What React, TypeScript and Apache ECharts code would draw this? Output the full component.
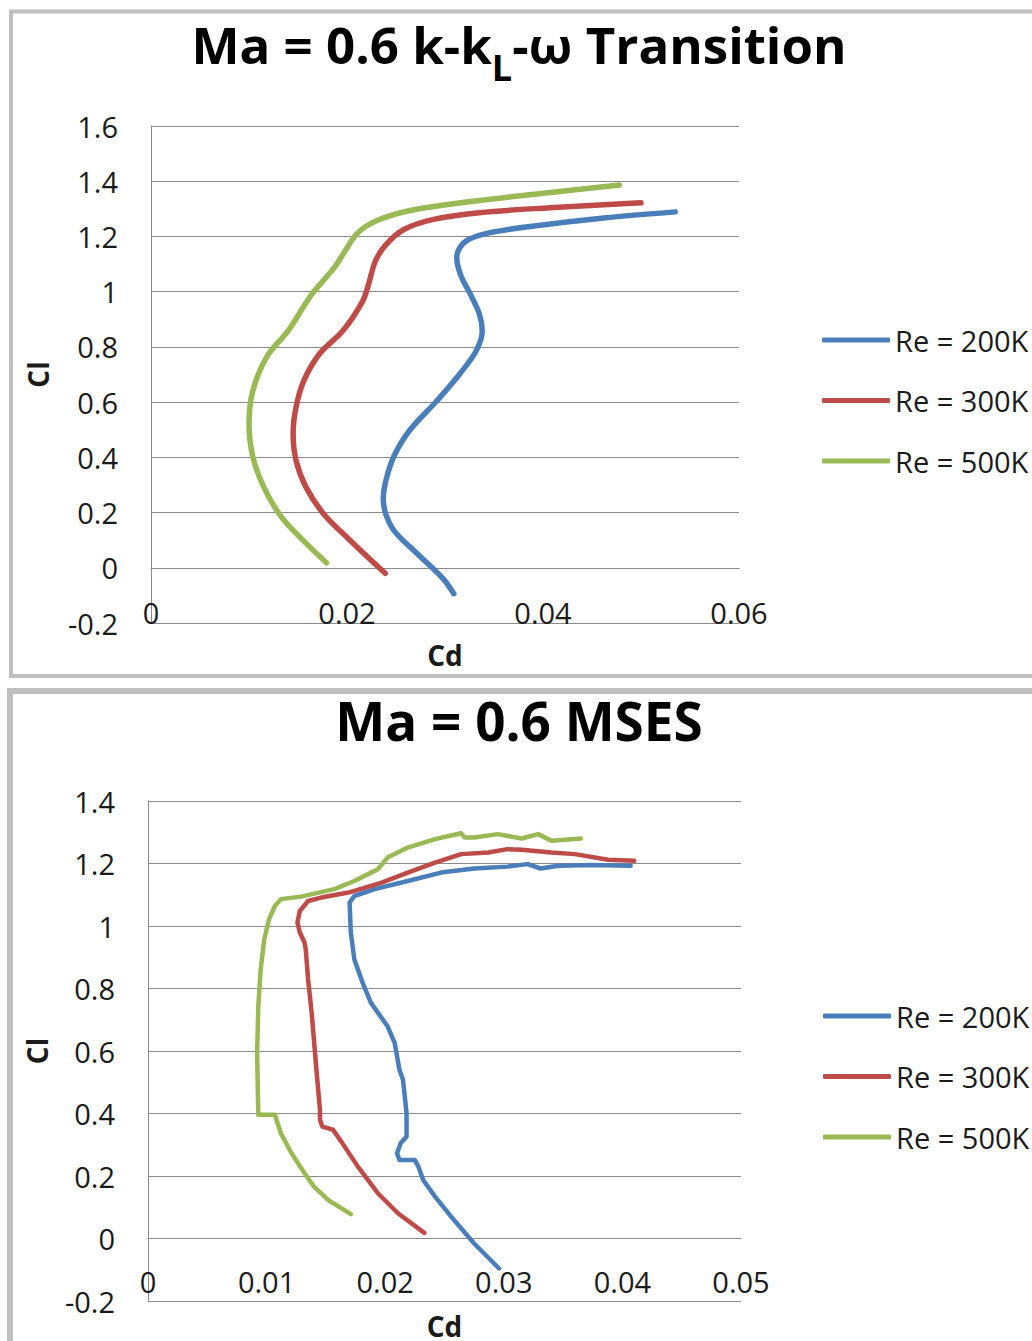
import React, { useEffect, useRef } from "react";
import * as echarts from "echarts";

// ---- Ma = 0.6 k-kL-ω Transition : [Cd, Cl]
const kklRe200K = [
  [0.0309, -0.094], [0.0298, -0.039], [0.0272, 0.05], [0.0249, 0.13], [0.024, 0.19],
  [0.0237, 0.25], [0.024, 0.32], [0.0248, 0.405], [0.0264, 0.498], [0.0292, 0.606],
  [0.0315, 0.702], [0.0332, 0.787], [0.0338, 0.858], [0.0335, 0.92], [0.0326, 0.99],
  [0.0316, 1.06], [0.0312, 1.123], [0.0315, 1.159], [0.0324, 1.189], [0.0345, 1.213],
  [0.0389, 1.237], [0.0462, 1.267], [0.0535, 1.289],
];
const kklRe300K = [
  [0.0239, -0.02], [0.0203, 0.1], [0.0176, 0.196], [0.0158, 0.293], [0.0148, 0.389],
  [0.0145, 0.486], [0.0148, 0.582], [0.0156, 0.678], [0.0172, 0.775], [0.0196, 0.859],
  [0.0216, 0.966], [0.0222, 1.027], [0.0229, 1.111], [0.024, 1.171], [0.0258, 1.225],
  [0.0287, 1.261], [0.0335, 1.286], [0.0407, 1.304], [0.05, 1.322],
];
const kklRe500K = [
  [0.0179, 0.018], [0.0155, 0.1], [0.0133, 0.184], [0.0115, 0.293], [0.0104, 0.401],
  [0.01, 0.522], [0.0104, 0.642], [0.0118, 0.763], [0.014, 0.859], [0.0164, 0.99],
  [0.0187, 1.087], [0.0198, 1.147], [0.0211, 1.213], [0.0229, 1.255], [0.0262, 1.292],
  [0.0316, 1.322], [0.0389, 1.352], [0.0478, 1.386],
];

// ---- Ma = 0.6 MSES : [Cd, Cl]
const msesRe200K = [
  [0.0296, -0.096], [0.0275, -0.016], [0.0258, 0.059], [0.0242, 0.134], [0.0232, 0.187],
  [0.0228, 0.23], [0.0225, 0.251], [0.0212, 0.251], [0.021, 0.273], [0.0213, 0.305],
  [0.0218, 0.326], [0.0218, 0.401], [0.0215, 0.508], [0.0212, 0.54], [0.0208, 0.626],
  [0.0202, 0.679], [0.0188, 0.754], [0.0181, 0.818], [0.0174, 0.893], [0.0171, 0.979],
  [0.017, 1.075], [0.0174, 1.096], [0.0191, 1.118], [0.0219, 1.144], [0.0247, 1.171],
  [0.0275, 1.184], [0.0303, 1.19], [0.032, 1.198], [0.0331, 1.184], [0.0346, 1.193],
  [0.0374, 1.195], [0.0407, 1.193],
];
const msesRe300K = [
  [0.0233, 0.018], [0.0211, 0.08], [0.0194, 0.144], [0.0177, 0.23], [0.0163, 0.31],
  [0.0156, 0.348], [0.0147, 0.358], [0.0145, 0.38], [0.0145, 0.412], [0.0142, 0.54],
  [0.0138, 0.722], [0.0135, 0.829], [0.0133, 0.925], [0.0132, 0.947], [0.0128, 0.979],
  [0.0126, 1.011], [0.0128, 1.048], [0.0135, 1.08], [0.0146, 1.091], [0.0169, 1.107],
  [0.0197, 1.139], [0.0219, 1.171], [0.0242, 1.203], [0.0264, 1.23], [0.0287, 1.235],
  [0.0303, 1.246], [0.0315, 1.244], [0.034, 1.235], [0.036, 1.23], [0.0388, 1.212],
  [0.041, 1.209],
];
const msesRe500K = [
  [0.0171, 0.078], [0.0152, 0.123], [0.014, 0.166], [0.0132, 0.209], [0.0121, 0.273],
  [0.0112, 0.337], [0.0107, 0.396], [0.0104, 0.396], [0.0093, 0.396], [0.0092, 0.594],
  [0.0093, 0.743], [0.0095, 0.861], [0.0098, 0.957], [0.0102, 1.021], [0.0107, 1.064],
  [0.0112, 1.086], [0.0129, 1.094], [0.0157, 1.118], [0.0174, 1.144], [0.0194, 1.182],
  [0.0202, 1.219], [0.0219, 1.251], [0.0242, 1.278], [0.0264, 1.297], [0.0267, 1.283],
  [0.0275, 1.283], [0.0295, 1.294], [0.0315, 1.28], [0.0329, 1.294], [0.034, 1.273],
  [0.0365, 1.28],
];

const seriesNames = ["Re = 200K", "Re = 300K", "Re = 500K"];
const seriesColors = ["#4a7ebb", "#be4b48", "#98b954"];
const titleTop = "Ma = 0.6 k-k";
const titleTopSub = "L";
const titleTopEnd = "-ω Transition";
const titleBottom = "Ma = 0.6 MSES";
const xNameText = "Cd";
const yNameText = "Cl";

const FONT = "'Open Sans', 'DejaVu Sans', sans-serif";
const GRID_COLOR = "#8a8a8a";
const TEXT = "#1a1a1a";

export default function App() {
  const ref = useRef<HTMLDivElement>(null);

  useEffect(() => {
    if (!ref.current) return;
    const chart = echarts.init(ref.current, undefined, { renderer: "svg" });

    const xAxisBase = (gridIndex: number, max: number, interval: number, labelMargin: number, nameGap: number) => ({
      type: "value",
      gridIndex,
      min: 0,
      max,
      interval,
      name: xNameText,
      nameLocation: "middle",
      nameGap,
      nameTextStyle: { fontFamily: FONT, fontSize: 28, fontWeight: "bold", color: TEXT },
      axisLine: { show: true, lineStyle: { color: GRID_COLOR, width: 1 } },
      axisTick: { show: false },
      splitLine: { show: false },
      axisLabel: {
        inside: true,
        margin: labelMargin,
        fontFamily: FONT,
        fontSize: 29,
        color: TEXT,
      },
    });

    const yAxisBase = (gridIndex: number, max: number, nameGap: number) => ({
      type: "value",
      gridIndex,
      min: -0.2,
      max,
      interval: 0.2,
      name: yNameText,
      nameLocation: "middle",
      nameGap,
      nameTextStyle: { fontFamily: FONT, fontSize: 28, fontWeight: "bold", color: TEXT },
      axisLine: { show: true, lineStyle: { color: GRID_COLOR, width: 1 } },
      axisTick: { show: false },
      splitLine: { show: true, lineStyle: { color: GRID_COLOR, width: 1 } },
      axisLabel: {
        margin: 33,
        fontFamily: FONT,
        fontSize: 29,
        color: TEXT,
        formatter: (v: number) => String(Math.round(v * 10) / 10),
      },
    });

    const mk = (name: string, data: number[][], idx: number, color: string, width: number, smooth: number | boolean) => ({
      type: "line",
      name,
      xAxisIndex: idx,
      yAxisIndex: idx,
      data,
      symbol: "none",
      smooth,
      lineStyle: { color, width, cap: "round", join: "round" },
      itemStyle: { color },
    });

    const legendBase = (left: number, top: number) => ({
      orient: "vertical",
      left,
      top,
      padding: 0,
      itemWidth: 68,
      itemHeight: 5,
      itemGap: 30.5,
      icon: "roundRect",
      data: seriesNames,
      selectedMode: false,
      textStyle: { fontFamily: FONT, fontSize: 29, color: TEXT, lineHeight: 30 },
    });

    chart.setOption({
      animation: false,
      backgroundColor: "#ffffff",
      title: [
        {
          text: `{a|${titleTop}}{s|${titleTopSub}}{a|${titleTopEnd}}`,
          left: 519,
          top: 18,
          textAlign: "center",
          padding: 0,
          textStyle: {
            rich: {
              a: { fontFamily: FONT, fontSize: 51, fontWeight: "bold", color: "#000", lineHeight: 60, verticalAlign: "top" },
              s: { fontFamily: FONT, fontSize: 36, fontWeight: "bold", color: "#000", lineHeight: 40, verticalAlign: "top", padding: [31, 0, 0, 0] },
            },
          },
        },
        {
          text: titleBottom,
          left: 519,
          top: 690,
          textAlign: "center",
          padding: 0,
          textStyle: { fontFamily: FONT, fontSize: 53, fontWeight: "bold", color: "#000", lineHeight: 60 },
        },
      ],
      legend: [legendBase(822, 325), legendBase(823, 1001)],
      grid: [
        { left: 151, top: 126, width: 588, height: 497 },
        { left: 148, top: 801, width: 593, height: 502 },
      ],
      xAxis: [xAxisBase(0, 0.06, 0.02, -4, 18), xAxisBase(1, 0.05, 0.01, 5, 11)],
      yAxis: [yAxisBase(0, 1.6, 99), yAxisBase(1, 1.4, 97)],
      graphic: [
        {
          type: "rect",
          shape: { x: 11, y: 11.5, width: 1100, height: 664.5 },
          style: { fill: "none", stroke: "#bfbfbf", lineWidth: 4 },
          silent: true,
          z: -10,
        },
        {
          type: "rect",
          shape: { x: 10, y: 691, width: 1100, height: 700 },
          style: { fill: "none", stroke: "#bfbfbf", lineWidth: 6 },
          silent: true,
          z: -10,
        },
      ],
      series: [
        mk(seriesNames[0], kklRe200K, 0, seriesColors[0], 5.5, 0.35),
        mk(seriesNames[1], kklRe300K, 0, seriesColors[1], 5.5, 0.35),
        mk(seriesNames[2], kklRe500K, 0, seriesColors[2], 5.5, 0.35),
        mk(seriesNames[0], msesRe200K, 1, seriesColors[0], 4.5, false),
        mk(seriesNames[1], msesRe300K, 1, seriesColors[1], 4.5, false),
        mk(seriesNames[2], msesRe500K, 1, seriesColors[2], 4.5, false),
      ],
    });

    return () => chart.dispose();
  }, []);

  return (
    <div
      ref={ref}
      style={{ position: "absolute", left: 0, top: 0, width: 1032, height: 1341, background: "#fff" }}
    />
  );
}
